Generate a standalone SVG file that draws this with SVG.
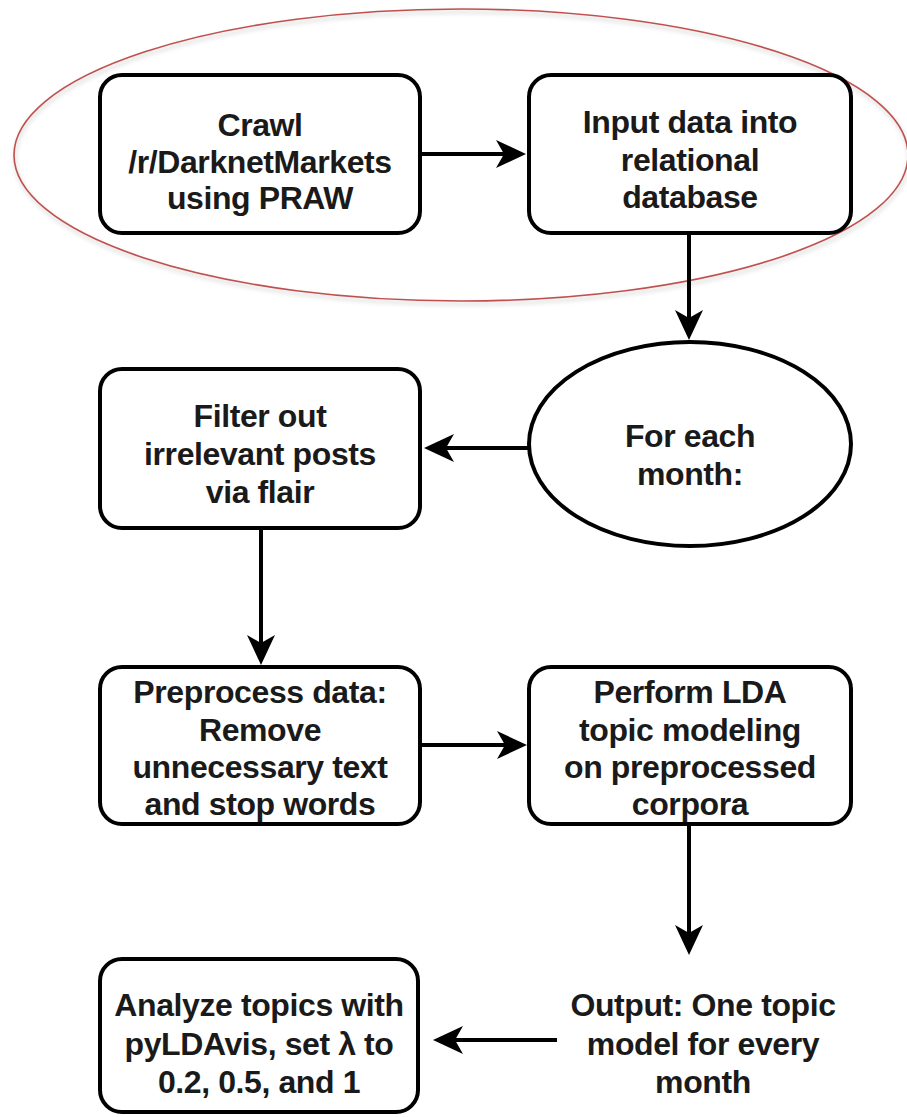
<svg xmlns="http://www.w3.org/2000/svg" width="907" height="1117" viewBox="0 0 907 1117">
  <style>
    .box { fill: #ffffff; stroke: #000000; stroke-width: 4; }
    .lbl { font-family: "Liberation Sans", Arial, Helvetica, sans-serif; font-weight: bold; font-size: 32px; letter-spacing: -0.4px; fill: #1a1a1a; text-anchor: middle; }
    .edge { fill: none; stroke: #000000; stroke-width: 4; marker-end: url(#arrow); }
    .group-outline { fill: none; stroke: #c0504d; stroke-width: 1.6; }
  </style>
  <defs>
    <marker id="arrow" markerUnits="userSpaceOnUse" viewBox="0 -15 30 30" markerWidth="30" markerHeight="30" refX="20" refY="0" orient="auto">
      <path d="M0,-14 L30,0 L0,14 L8,0 Z" fill="#000000"/>
    </marker>
    <filter id="soft-shadow" x="-10%" y="-10%" width="120%" height="130%">
      <feGaussianBlur stdDeviation="2"/>
    </filter>
  </defs>

  <rect width="907" height="1117" fill="#ffffff"/>

  <!-- highlight ring around the crawling stage -->
  <g id="crawl-stage-outline">
    <ellipse cx="462" cy="158" rx="447" ry="146" fill="none" stroke="#000000" stroke-opacity="0.12" stroke-width="3" filter="url(#soft-shadow)"/>
    <ellipse class="group-outline" cx="461" cy="155" rx="447" ry="146"/>
  </g>

  <!-- connectors -->
  <g id="connectors">
    <line class="edge" x1="422" y1="154" x2="516" y2="154"/>
    <line class="edge" x1="689" y1="235" x2="689" y2="330"/>
    <line class="edge" x1="528" y1="448" x2="434" y2="448"/>
    <line class="edge" x1="261" y1="530" x2="261" y2="655"/>
    <line class="edge" x1="422" y1="745" x2="517" y2="745"/>
    <line class="edge" x1="689" y1="826" x2="689" y2="945"/>
    <line class="edge" x1="557" y1="1040" x2="443" y2="1040"/>
  </g>

  <g id="crawl">
    <rect class="box" x="100" y="75" width="320" height="158" rx="22"/>
    <text class="lbl" x="260" y="136">Crawl</text>
    <text class="lbl" x="260" y="173">/r/DarknetMarkets</text>
    <text class="lbl" x="260" y="209">using PRAW</text>
  </g>

  <g id="input-db">
    <rect class="box" x="529" y="75" width="322" height="158" rx="22"/>
    <text class="lbl" x="690" y="133">Input data into</text>
    <text class="lbl" x="690" y="171">relational</text>
    <text class="lbl" x="690" y="208">database</text>
  </g>

  <g id="for-each-month">
    <ellipse class="box" cx="690" cy="444" rx="161" ry="102"/>
    <text class="lbl" x="690" y="447">For each</text>
    <text class="lbl" x="690" y="485">month:</text>
  </g>

  <g id="filter">
    <rect class="box" x="100" y="369" width="320" height="159" rx="22"/>
    <text class="lbl" x="260" y="427">Filter out</text>
    <text class="lbl" x="260" y="465">irrelevant posts</text>
    <text class="lbl" x="260" y="503">via flair</text>
  </g>

  <g id="preprocess">
    <rect class="box" x="100" y="667" width="320" height="157" rx="22"/>
    <text class="lbl" x="260" y="703">Preprocess data:</text>
    <text class="lbl" x="260" y="741">Remove</text>
    <text class="lbl" x="260" y="778">unnecessary text</text>
    <text class="lbl" x="260" y="815">and stop words</text>
  </g>

  <g id="lda">
    <rect class="box" x="529" y="667" width="322" height="157" rx="22"/>
    <text class="lbl" x="690" y="703">Perform LDA</text>
    <text class="lbl" x="690" y="741">topic modeling</text>
    <text class="lbl" x="690" y="778">on preprocessed</text>
    <text class="lbl" x="690" y="815">corpora</text>
  </g>

  <g id="output">
    <text class="lbl" x="703" y="1016">Output: One topic</text>
    <text class="lbl" x="703" y="1055">model for every</text>
    <text class="lbl" x="703" y="1093">month</text>
  </g>

  <g id="analyze">
    <rect class="box" x="100" y="959" width="318" height="153" rx="22"/>
    <text class="lbl" x="259" y="1016">Analyze topics with</text>
    <text class="lbl" x="259" y="1055">pyLDAvis, set λ to</text>
    <text class="lbl" x="259" y="1093">0.2, 0.5, and 1</text>
  </g>
</svg>
